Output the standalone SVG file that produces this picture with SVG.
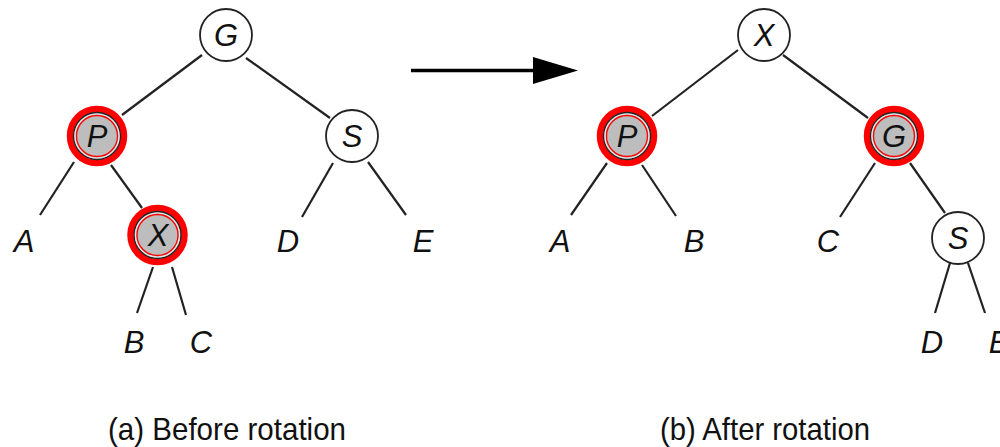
<svg xmlns="http://www.w3.org/2000/svg" width="1000" height="447" viewBox="0 0 1000 447">
<defs>
<style>
.edge{stroke:#222;stroke-width:2.2;fill:none}
.plain{fill:#fff;stroke:#222;stroke-width:1.8}
.ring{fill:none;stroke:#f00;stroke-width:6.5}
.inner{fill:#bdbdbd;stroke:#222;stroke-width:1.4}
.hl{fill:none;stroke:#e8e8e8;stroke-width:1.2}
.thin{fill:none;stroke:#f00;stroke-width:1.3}
.lbl{font-family:"Liberation Sans",Arial,sans-serif;font-style:italic;font-size:31px;fill:#111;text-anchor:middle}
.cap{font-family:"Liberation Sans",Arial,sans-serif;font-size:32px;fill:#111}
</style>
</defs>
<rect width="1000" height="447" fill="#fff"/>

<g id="connectors">
<line class="edge" x1="202" y1="55" x2="122" y2="115"/>
<line class="edge" x1="246" y1="58" x2="330" y2="118"/>
<line class="edge" x1="74" y1="162" x2="40" y2="215"/>
<line class="edge" x1="111" y1="165" x2="142" y2="208"/>
<line class="edge" x1="333" y1="163" x2="302" y2="217"/>
<line class="edge" x1="368" y1="162" x2="406" y2="215"/>
<line class="edge" x1="153" y1="267" x2="137" y2="313"/>
<line class="edge" x1="172" y1="267" x2="186" y2="315"/>
<line class="edge" x1="738" y1="50" x2="652" y2="116"/>
<line class="edge" x1="783" y1="55" x2="868" y2="118"/>
<line class="edge" x1="607" y1="163" x2="571" y2="215"/>
<line class="edge" x1="642" y1="165" x2="676" y2="216"/>
<line class="edge" x1="875" y1="163" x2="840" y2="217"/>
<line class="edge" x1="910" y1="163" x2="945" y2="213"/>
<line class="edge" x1="950" y1="263" x2="935" y2="313"/>
<line class="edge" x1="968" y1="263" x2="985" y2="313"/>
<line x1="411" y1="70.5" x2="534" y2="70.5" stroke="#000" stroke-width="3.5"/>
<path d="M533,57 L578,70.5 L533,84 z" fill="#000"/>
</g>

<g id="a-G"><circle class="plain" cx="226" cy="35" r="26"/><text class="lbl" x="226" y="46">G</text></g>
<g id="a-P"><circle class="ring" cx="97" cy="136" r="27"/><circle class="inner" cx="97" cy="136" r="23.5"/><circle class="hl" cx="97" cy="136" r="22"/><circle class="thin" cx="97" cy="136" r="20.5"/><text class="lbl" x="97" y="147">P</text></g>
<g id="a-S"><circle class="plain" cx="352" cy="136" r="26"/><text class="lbl" x="352" y="147">S</text></g>
<g id="a-X"><circle class="ring" cx="157.5" cy="235" r="27"/><circle class="inner" cx="157.5" cy="235" r="23.5"/><circle class="hl" cx="157.5" cy="235" r="22"/><circle class="thin" cx="157.5" cy="235" r="20.5"/><text class="lbl" x="158" y="246">X</text></g>
<g id="a-A"><text class="lbl" x="24" y="252">A</text></g>
<g id="a-D"><text class="lbl" x="288" y="252">D</text></g>
<g id="a-E"><text class="lbl" x="423" y="252">E</text></g>
<g id="a-B"><text class="lbl" x="134" y="353">B</text></g>
<g id="a-C"><text class="lbl" x="201" y="353">C</text></g>

<g id="b-X"><circle class="plain" cx="764" cy="35" r="26"/><text class="lbl" x="764" y="46">X</text></g>
<g id="b-P"><circle class="ring" cx="627" cy="136" r="27"/><circle class="inner" cx="627" cy="136" r="23.5"/><circle class="hl" cx="627" cy="136" r="22"/><circle class="thin" cx="627" cy="136" r="20.5"/><text class="lbl" x="627" y="147">P</text></g>
<g id="b-G"><circle class="ring" cx="894" cy="136" r="27"/><circle class="inner" cx="894" cy="136" r="23.5"/><circle class="hl" cx="894" cy="136" r="22"/><circle class="thin" cx="894" cy="136" r="20.5"/><text class="lbl" x="894" y="147">G</text></g>
<g id="b-S"><circle class="plain" cx="958" cy="238" r="26"/><text class="lbl" x="958" y="249">S</text></g>
<g id="b-A"><text class="lbl" x="560" y="252">A</text></g>
<g id="b-B"><text class="lbl" x="694" y="252">B</text></g>
<g id="b-C"><text class="lbl" x="828" y="252">C</text></g>
<g id="b-D"><text class="lbl" x="932" y="353">D</text></g>
<g id="b-E"><text class="lbl" x="999" y="353">E</text></g>

<g id="captions">
<text class="cap" x="108" y="440" textLength="238" lengthAdjust="spacingAndGlyphs">(a) Before rotation</text>
<text class="cap" x="660" y="440" textLength="210" lengthAdjust="spacingAndGlyphs">(b) After rotation</text>
</g>
</svg>
